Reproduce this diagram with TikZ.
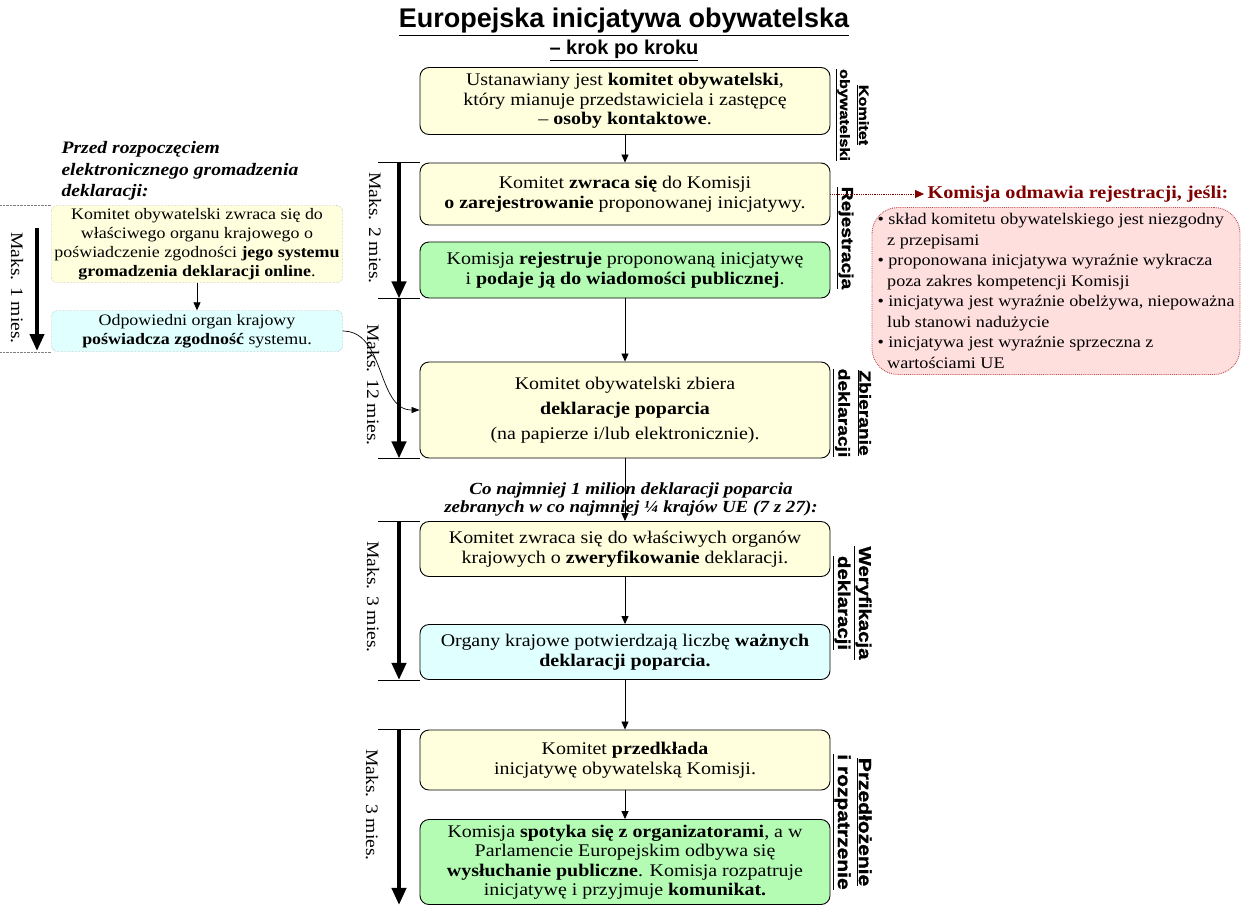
\documentclass[tikz,border=0pt]{standalone}
\usepackage{fontspec}
\setmainfont{Liberation Serif}[FakeStretch=1.12]
\setsansfont{Liberation Sans}
\newfontfamily\etapfont{Liberation Sans}[FakeStretch=1.2, FakeBold=1.5]
\usetikzlibrary{arrows.meta}
\definecolor{krem}{RGB}{255,255,221}
\definecolor{ziel}{RGB}{180,252,180}
\definecolor{blek}{RGB}{224,255,255}
\definecolor{roz}{RGB}{255,222,222}
\definecolor{czerwbrzeg}{RGB}{190,80,80}
\definecolor{ciemnoczerw}{RGB}{128,0,0}

\begin{document}
\begin{tikzpicture}[x=1pt, y=-1pt,
    krok/.style={draw, line width=0.9pt, rounded corners=9pt, minimum width=410pt, inner sep=2pt,
        align=center, font=\fontsize{17.8}{19.5}\selectfont},
    lewy/.style={draw=gray, densely dotted, rounded corners=6pt, minimum width=291pt, inner sep=2pt,
        align=center, font=\fontsize{16}{19}\selectfont},
    etap/.style={rotate=-90, align=center, inner sep=1pt, font=\etapfont\bfseries\fontsize{16}{21}\selectfont},
    maks/.style={rotate=-90, inner sep=0pt, font=\fontsize{17.5}{20}\selectfont},
    strz/.style={-{Triangle[length=8pt,width=7pt]}, line width=0.8pt},
    gruba/.style={-{Triangle[length=17pt,width=14pt]}, line width=4pt},
    kreska/.style={line width=0.8pt}]
    \useasboundingbox (0,0) rectangle (1246,908);

    \node[font=\sffamily\bfseries\fontsize{27}{30}\selectfont] (tytul) at (624,22)
        {\underline{Europejska inicjatywa obywatelska}};
    \node[font=\sffamily\bfseries\fontsize{20}{24}\selectfont] (podtytul) at (624,50)
        {\underline{– krok po kroku}};

    \node[krok, fill=krem, minimum height=67pt] (b1) at (625,101)
        {Ustanawiany jest \textbf{komitet obywatelski},\\ który mianuje przedstawiciela i zastępcę\\ – \textbf{osoby kontaktowe}.};
    \node[krok, fill=krem, minimum height=62pt] (b2) at (625,194)
        {Komitet \textbf{zwraca się} do Komisji\\ \textbf{o zarejestrowanie} proponowanej inicjatywy.};
    \node[krok, fill=ziel, minimum height=56pt] (b3) at (625,270)
        {Komisja \textbf{rejestruje} proponowaną inicjatywę\\ i \textbf{podaje ją do wiadomości publicznej}.};
    \node[krok, fill=krem, minimum height=96pt, font=\fontsize{17.8}{25}\selectfont] (b4) at (625,410)
        {Komitet obywatelski zbiera\\ \textbf{deklaracje poparcia}\\ (na papierze i/lub elektronicznie).};
    \node[krok, fill=krem, minimum height=55pt] (b5) at (625,549)
        {Komitet zwraca się do właściwych organów\\ krajowych o \textbf{zweryfikowanie} deklaracji.};
    \node[krok, fill=blek, minimum height=55pt] (b6) at (625,652)
        {Organy krajowe potwierdzają liczbę \textbf{ważnych}\\ \textbf{deklaracji poparcia.}};
    \node[krok, fill=krem, minimum height=60pt] (b7) at (625,760)
        {Komitet \textbf{przedkłada}\\ inicjatywę obywatelską Komisji.};
    \node[krok, fill=ziel, minimum height=85pt] (b8) at (625,862)
        {Komisja \textbf{spotyka się z organizatorami}, a w\\ Parlamencie Europejskim odbywa się\\
         \textbf{wysłuchanie publiczne}. Komisja rozpatruje\\ inicjatywę i przyjmuje \textbf{komunikat.}};

    \foreach \a/\b in {b1/b2, b3/b4, b4/b5, b5/b6, b6/b7, b7/b8}
        \draw[strz] (\a) -- (\b);

    \node[font=\bfseries\itshape\fontsize{17}{18}\selectfont, align=center] (milion) at (631,499)
        {Co najmniej 1 milion deklaracji poparcia\\ zebranych w co najmniej ¼ krajów UE (7 z 27):};

    \coordinate (os) at (399,0);
    \coordinate (ts) at (378,0);
    \foreach \p in {b2.north, b3.south, b4.south, b5.north, b6.south, b7.north}
        \draw[kreska] (ts |- \p) -- (b1.west |- \p);
    \foreach \g/\d in {b2.north/b3.south, b3.south/b4.south, b5.north/b6.south, b7.north/b8.south}
        \draw[gruba] (os |- \g) -- (os |- \d);

    \node[maks] (m1) at (375,228) {Maks. 2 mies.};
    \node[maks] (m2) at (373,385) {Maks. 12 mies.};
    \node[maks] (m3) at (373,597) {Maks. 3 mies.};
    \node[maks] (m4) at (372,805) {Maks. 3 mies.};

    \node[etap, font=\etapfont\bfseries\fontsize{13.5}{19}\selectfont] (e1) at (852,115)
        {\underline{Komitet}\\ \underline{obywatelski}};
    \node[etap] (e2) at (845,238) {\underline{Rejestracja}};
    \node[etap] (e3) at (852,413) {\underline{Zbieranie}\\ \underline{deklaracji}};
    \node[etap, font=\etapfont\bfseries\fontsize{17}{21}\selectfont] (e4) at (852,603)
        {\underline{Weryfikacja}\\ \underline{deklaracji}};
    \node[etap, font=\etapfont\bfseries\fontsize{17.5}{21}\selectfont] (e5) at (852,822)
        {\underline{Przedłożenie}\\ \underline{i rozpatrzenie}};

    \node[font=\bfseries\itshape\fontsize{17.5}{21.5}\selectfont, align=left, anchor=north west] (przed) at (58,138)
        {Przed rozpoczęciem\\ elektronicznego gromadzenia\\ deklaracji:};
    \node[lewy, fill=krem, minimum height=77pt] (l1) at (197,244)
        {Komitet obywatelski zwraca się do\\ właściwego organu krajowego o\\
         poświadczenie zgodności \textbf{jego systemu}\\ \textbf{gromadzenia deklaracji online}.};
    \node[lewy, fill=blek, minimum height=41pt] (l2) at (197,331)
        {Odpowiedni organ krajowy\\ \textbf{poświadcza zgodność} systemu.};
    \draw[strz] (l1) -- (l2);
    \coordinate (lk) at (0,0);
    \draw[densely dotted, gray] (lk |- l1.north) -- (l1.north west);
    \draw[densely dotted, gray] (lk |- l2.south) -- (l2.south west);
    \draw[gruba] (37,228) -- (37,351);
    \node[maks] (m0) at (17,288) {Maks. 1 mies.};
    \draw[-{Triangle[length=8pt,width=6pt]}, line width=0.7pt] (l2.east) to[out=0, in=180] (b4.west);

    \node[font=\bfseries\fontsize{18}{19}\selectfont, text=ciemnoczerw] (odm) at (1078,194)
        {Komisja odmawia rejestracji, jeśli:};
    \draw[densely dotted, ciemnoczerw, line width=0.8pt, -{Triangle[length=9pt,width=8pt]}] (b2) -- (odm);
    \node[draw=czerwbrzeg, densely dotted, line width=0.9pt, fill=roz, rounded corners=26pt,
        minimum width=368pt, minimum height=167pt, align=left, font=\fontsize{16.2}{20.5}\selectfont] (rej) at (1056,291)
        {\textbullet\ skład komitetu obywatelskiego jest niezgodny\\ \hspace*{0.6em}z przepisami\\
         \textbullet\ proponowana inicjatywa wyraźnie wykracza\\ \hspace*{0.6em}poza zakres kompetencji Komisji\\
         \textbullet\ inicjatywa jest wyraźnie obelżywa, niepoważna\\ \hspace*{0.6em}lub stanowi nadużycie\\
         \textbullet\ inicjatywa jest wyraźnie sprzeczna z\\ \hspace*{0.6em}wartościami UE};
\end{tikzpicture}
\end{document}
